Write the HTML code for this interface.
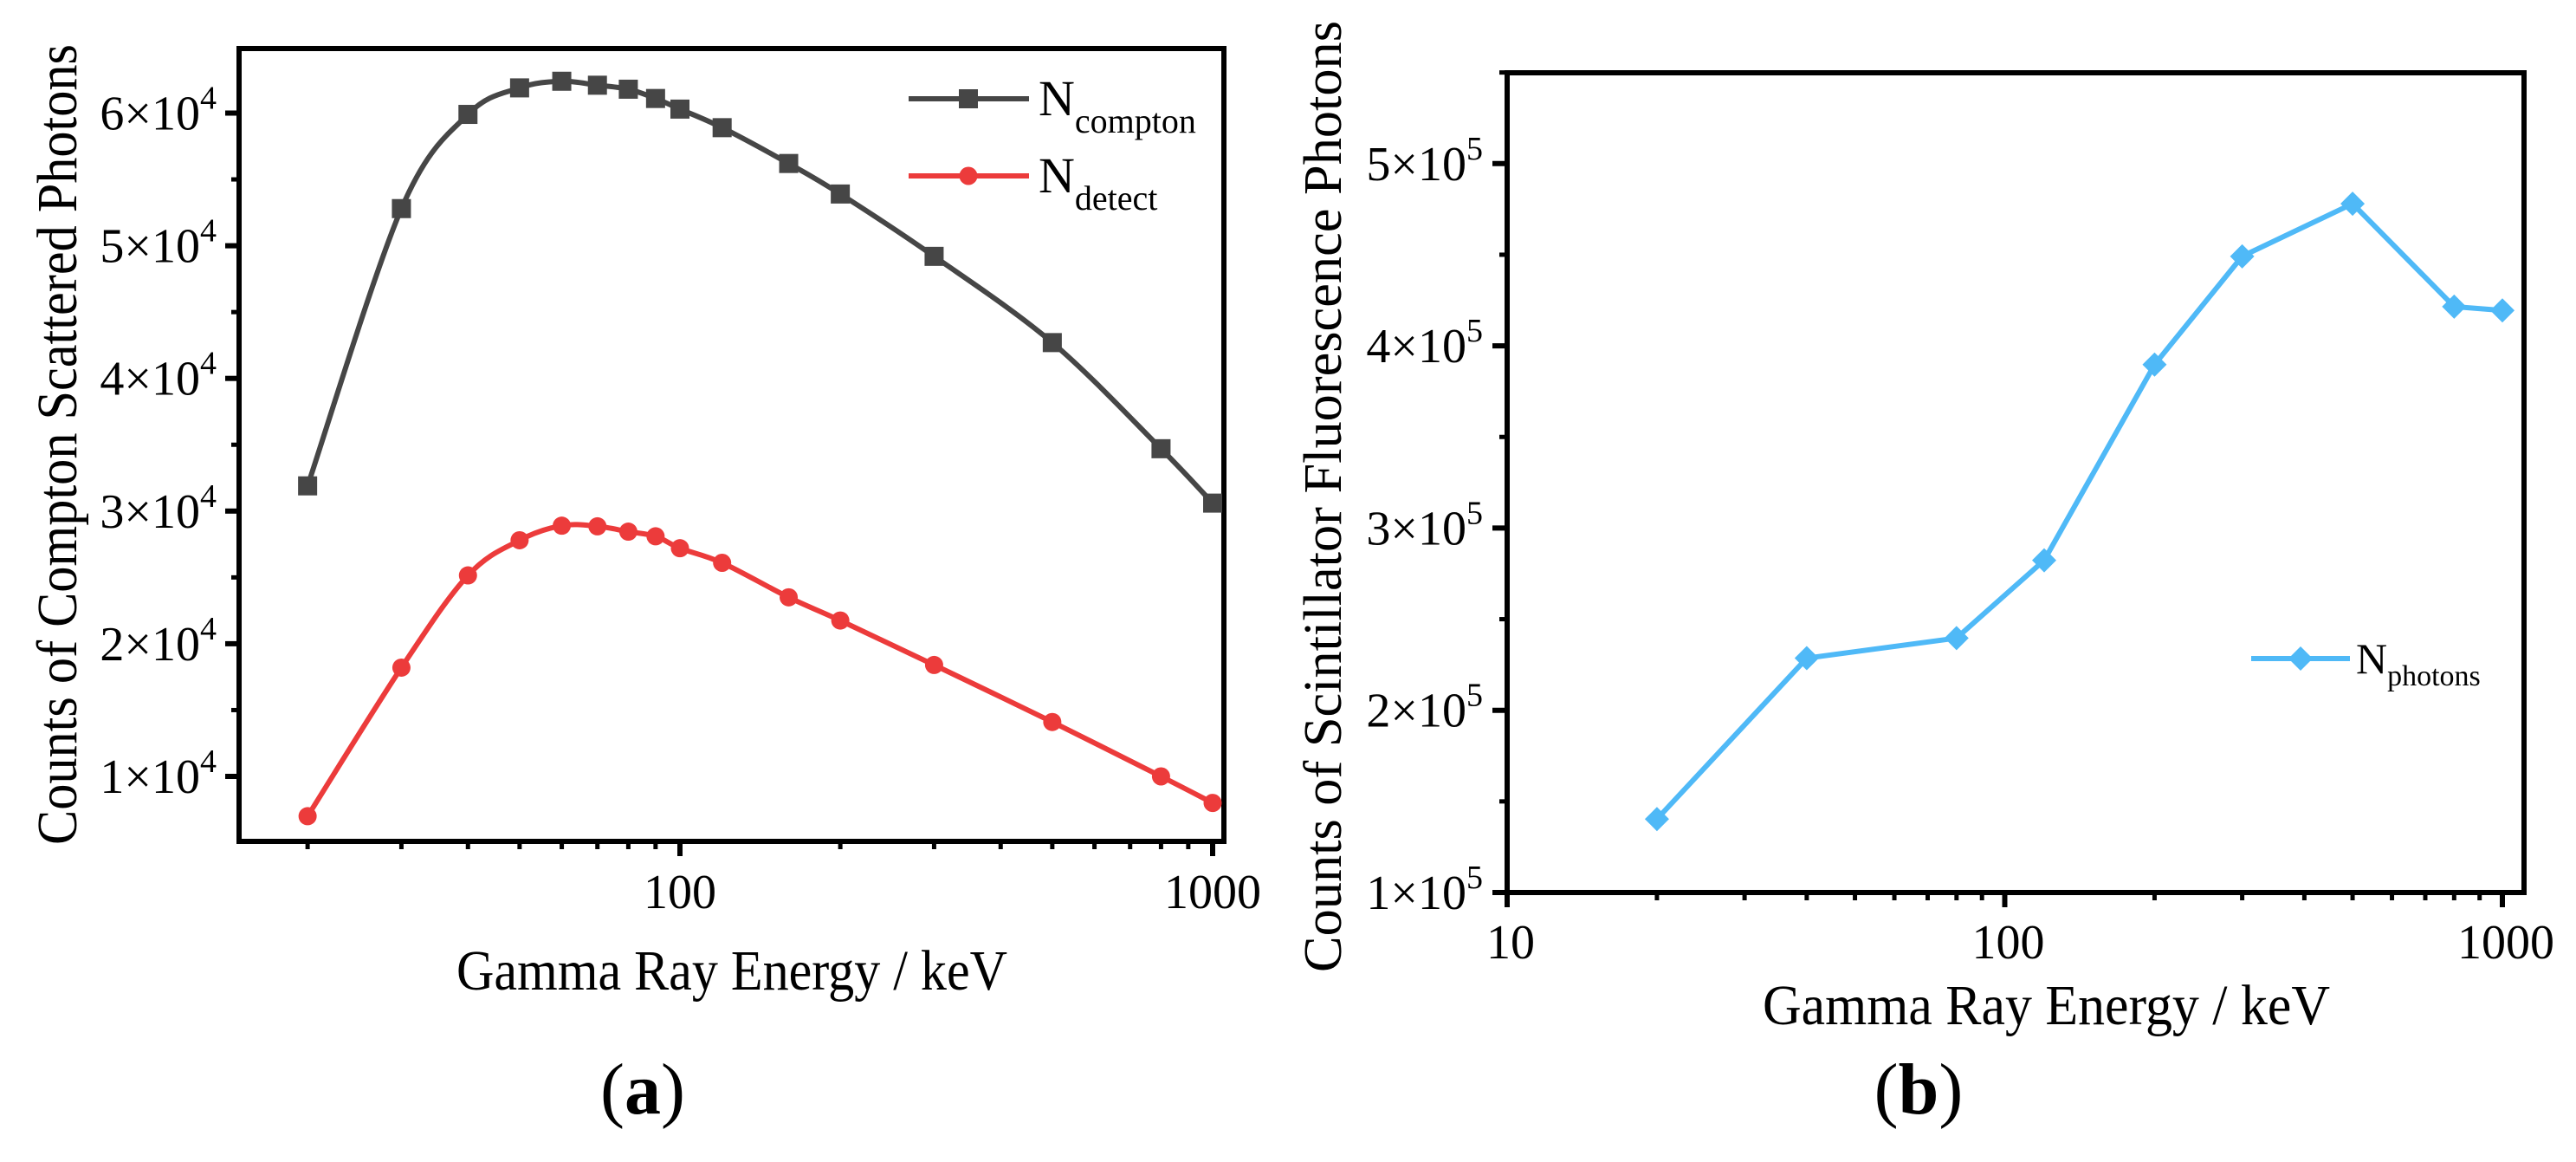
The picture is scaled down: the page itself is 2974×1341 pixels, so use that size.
<!DOCTYPE html>
<html><head><meta charset="utf-8"><style>
html,body{margin:0;padding:0;background:#fff;}
svg{display:block;font-family:"Liberation Serif",serif;}
</style></head><body>
<svg id="fig" width="2974" height="1341" viewBox="0 0 2974 1341" xmlns="http://www.w3.org/2000/svg">
<g id="pa"></g>
<g id="pb"></g>
</svg>
<script>
// Chart (a) data
const energyA = [20,30,40,50,60,70,80,90,100,120,160,200,300,500,800,1000];
const compton = [31900,52800,59900,61900,62400,62100,61800,61100,60300,58900,56200,53900,49200,42700,34700,30600];
const detect = [7000,18200,25150,27800,28900,28850,28450,28100,27200,26100,23500,21750,18400,14100,10000,8000];
const yTicksA = [1,2,3,4,5,6];
const xTicksA = [100,1000];
// Chart (b) data
const energyB = [20,40,80,120,200,300,500,800,1000];
const photons = [140300,228600,239600,282300,389700,449100,478000,421500,419400];
const yTicksB = [1,2,3,4,5];
const xTicksB = [10,100,1000];

const NS = "http://www.w3.org/2000/svg";
function mk(parent, tag, attrs){
  const e = document.createElementNS(NS, tag);
  for (const k in attrs) e.setAttribute(k, attrs[k]);
  parent.appendChild(e);
  return e;
}

// ---------- Chart A ----------
const A = {L:276,R:1413,T:56,B:971};
const xa = v => 785 + (Math.log10(v)-2)*615;
const ya = v => 896 - (v-10000)/10000*153.1;
const ga = document.getElementById('pa');

function smoothPath(pts){
  let d = `M${pts[0][0]},${pts[0][1]}`;
  for (let i=0;i<pts.length-1;i++){
    const p0=pts[Math.max(i-1,0)], p1=pts[i], p2=pts[i+1], p3=pts[Math.min(i+2,pts.length-1)];
    const c1=[p1[0]+(p2[0]-p0[0])/6, p1[1]+(p2[1]-p0[1])/6];
    const c2=[p2[0]-(p3[0]-p1[0])/6, p2[1]-(p3[1]-p1[1])/6];
    d += ` C${c1[0]},${c1[1]} ${c2[0]},${c2[1]} ${p2[0]},${p2[1]}`;
  }
  return d;
}

let f = mk(ga,'rect',{x:A.L,y:A.T,width:A.R-A.L,height:A.B-A.T,fill:'none',stroke:'#000','stroke-width':6});


yTicksA.forEach(t=>{
  const y = ya(t*10000);
  let l = mk(ga,'line',{x1:A.L-16,x2:A.L,y1:y,y2:y,stroke:'#000','stroke-width':6});
  
  
  const tx = mk(ga,'text',{x:250,y:y+19,'font-size':56,'text-anchor':'end'});
  
  
  tx.innerHTML = `${t}×10<tspan font-size="38" dy="-24">4</tspan>`;
  const ym = ya(t*10000+5000);
  if (ym > A.T+5){
    let m = mk(ga,'line',{x1:A.L-9,x2:A.L,y1:ym,y2:ym,stroke:'#000','stroke-width':5});
    
    
  }
});
[20,30,40,50,60,70,80,90,200,300,400,500,600,700,800,900].forEach(v=>{
  const x = xa(v);
  let m = mk(ga,'line',{x1:x,x2:x,y1:A.B,y2:A.B+9,stroke:'#000','stroke-width':5});
  
  
});
xTicksA.forEach(v=>{
  const x = xa(v);
  let l = mk(ga,'line',{x1:x,x2:x,y1:A.B,y2:A.B+17,stroke:'#000','stroke-width':6});
  
  
  const tx = mk(ga,'text',{x:x,y:1048,'font-size':56,'text-anchor':'middle'});
  
  
  tx.textContent = v;
});
const cPts = energyA.map((e,i)=>[xa(e),ya(compton[i])]);
const dPts = energyA.map((e,i)=>[xa(e),ya(detect[i])]);
let pc = mk(ga,'path',{d:smoothPath(cPts),fill:'none',stroke:'#464646','stroke-width':6});


let pd = mk(ga,'path',{d:smoothPath(dPts),fill:'none',stroke:'#ec3b3b','stroke-width':6});


cPts.forEach(p=>{
  let r = mk(ga,'rect',{x:p[0]-11,y:p[1]-11,width:22,height:22,fill:'#464646'});
  
  
});
dPts.forEach(p=>{
  let c = mk(ga,'circle',{cx:p[0],cy:p[1],r:10.5,fill:'#ec3b3b'});
  
  
});
let lg1 = mk(ga,'g',{});


mk(lg1,'line',{x1:1049,x2:1188,y1:114,y2:114,stroke:'#464646','stroke-width':6});
mk(lg1,'rect',{x:1107,y:103,width:22,height:22,fill:'#464646'});
let lt1 = mk(lg1,'text',{x:1199,y:133,'font-size':58});
lt1.innerHTML = 'N<tspan font-size="40" dy="20">compton</tspan>';
let lg2 = mk(ga,'g',{});


mk(lg2,'line',{x1:1049,x2:1188,y1:203,y2:203,stroke:'#ec3b3b','stroke-width':6});
mk(lg2,'circle',{cx:1118,cy:203,r:10.5,fill:'#ec3b3b'});
let lt2 = mk(lg2,'text',{x:1199,y:222,'font-size':58});
lt2.innerHTML = 'N<tspan font-size="40" dy="20">detect</tspan>';
let xt = mk(ga,'text',{x:527,y:1142,'font-size':66,textLength:636,lengthAdjust:'spacingAndGlyphs'});


xt.textContent = 'Gamma Ray Energy / keV';
let yt = mk(ga,'text',{x:0,y:0,'font-size':66,textLength:924,lengthAdjust:'spacingAndGlyphs',transform:'translate(88,975) rotate(-90)'});


yt.textContent = 'Counts of Compton Scattered Photons';
let ca = mk(ga,'text',{x:742,y:1285,'font-size':84,'text-anchor':'middle'});


ca.innerHTML = '(<tspan font-weight="bold">a</tspan>)';

// ---------- Chart B ----------
const B = {L:1740,R:2914,T:84,B:1030};
const xb = v => 1740 + (Math.log10(v)-1)*574.5;
const yb = v => 1030 - (v-100000)/100000*210.3;
const gb = document.getElementById('pb');
let fb = mk(gb,'rect',{x:B.L,y:B.T,width:B.R-B.L,height:B.B-B.T,fill:'none',stroke:'#000','stroke-width':6});


yTicksB.forEach(t=>{
  const y = yb(t*100000);
  let l = mk(gb,'line',{x1:B.L-17,x2:B.L,y1:y,y2:y,stroke:'#000','stroke-width':6});
  
  
  const tx = mk(gb,'text',{x:1712,y:y+19,'font-size':56,'text-anchor':'end'});
  
  
  tx.innerHTML = `${t}×10<tspan font-size="38" dy="-24">5</tspan>`;
  const ym = yb(t*100000+50000);
  let m = mk(gb,'line',{x1:B.L-9,x2:B.L,y1:ym,y2:ym,stroke:'#000','stroke-width':5});
  
  
});
[20,30,40,50,60,70,80,90,200,300,400,500,600,700,800,900].forEach(v=>{
  const x = xb(v);
  let m = mk(gb,'line',{x1:x,x2:x,y1:B.B,y2:B.B+9,stroke:'#000','stroke-width':5});
  
  
});
xTicksB.forEach(v=>{
  const x = xb(v);
  let l = mk(gb,'line',{x1:x,x2:x,y1:B.B,y2:B.B+17,stroke:'#000','stroke-width':6});
  
  
  const tx = mk(gb,'text',{x:x+4,y:1106,'font-size':56,'text-anchor':'middle'});
  
  
  tx.textContent = v;
});
const pPts = energyB.map((e,i)=>[xb(e),yb(photons[i])]);
let pl = mk(gb,'polyline',{points:pPts.map(p=>p.join(',')).join(' '),fill:'none',stroke:'#4fb9f7','stroke-width':6});


pPts.forEach(p=>{
  let d = mk(gb,'polygon',{points:`${p[0]},${p[1]-14} ${p[0]+14},${p[1]} ${p[0]},${p[1]+14} ${p[0]-14},${p[1]}`,fill:'#4fb9f7'});
  
  
});
let lg3 = mk(gb,'g',{});


mk(lg3,'line',{x1:2599,x2:2713,y1:760,y2:760,stroke:'#4fb9f7','stroke-width':6});
mk(lg3,'polygon',{points:'2656,746 2670,760 2656,774 2642,760',fill:'#4fb9f7'});
let lt3 = mk(lg3,'text',{x:2720,y:777,'font-size':50});
lt3.innerHTML = 'N<tspan font-size="34" dy="14">photons</tspan>';
let xtb = mk(gb,'text',{x:2035,y:1182,'font-size':66,textLength:655,lengthAdjust:'spacingAndGlyphs'});


xtb.textContent = 'Gamma Ray Energy / keV';
let ytb = mk(gb,'text',{x:0,y:0,'font-size':62,textLength:1098,lengthAdjust:'spacingAndGlyphs',transform:'translate(1548,1122) rotate(-90)'});


ytb.textContent = 'Counts of Scintillator Fluorescence Photons';
let cb = mk(gb,'text',{x:2215,y:1285,'font-size':84,'text-anchor':'middle'});


cb.innerHTML = '(<tspan font-weight="bold">b</tspan>)';
</script>
</body></html>
